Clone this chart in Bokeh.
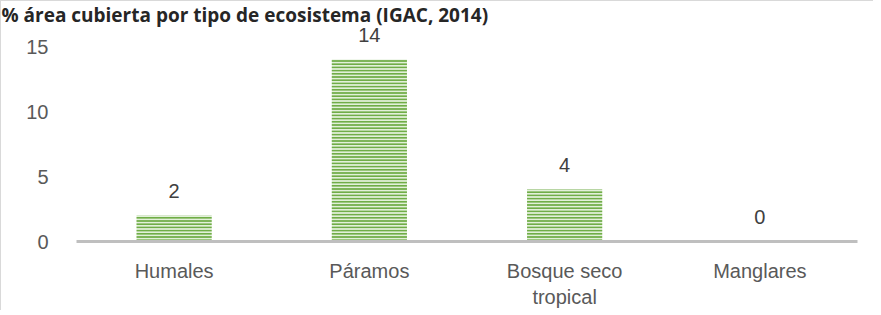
from bokeh.plotting import figure
from bokeh.models import ColumnDataSource, LabelSet, Range1d
from bokeh.core.properties import value
from bokeh.embed import file_html
from bokeh.resources import INLINE

categories = ["Humales", "Páramos", "Bosque seco\ntropical", "Manglares"]
values = [2, 14, 4, 0]
value_labels = ["2", "14", "4", "0"]
title_text = "% área cubierta por tipo de ecosistema (IGAC, 2014)"

FRAME_H = 217
UNIT_PX = 13

src = ColumnDataSource(dict(x=categories, top=values, lab=value_labels))

p = figure(x_range=categories, y_range=Range1d(0, FRAME_H / UNIT_PX),
           frame_width=781, frame_height=FRAME_H,
           min_border_left=75, min_border_right=16, min_border_top=23, min_border_bottom=68,
           output_backend="svg", toolbar_location=None, tools="",
           title=title_text)
p.styles = {"border-left": "1px solid #d9d9d9", "border-top": "1px solid #d9d9d9"}

p.title.text_font = "Open Sans"
p.title.text_font_size = "19px"
p.title.text_font_style = "bold"
p.title.text_color = "#262626"
p.title.align = "left"
p.title.offset = -75
p.title.standoff = -7

p.vbar(x="x", top="top", width=0.385, source=src,
       fill_color="#e2f0d9", line_color=None,
       hatch_pattern="horizontal_line", hatch_color="#70ad47",
       hatch_scale=3.2, hatch_weight=2.0)

labels = LabelSet(x="x", y="top", text="lab", source=src,
                  text_align="center", text_baseline="alphabetic", y_offset=18,
                  text_font=value("Liberation Sans"), text_font_size="20px",
                  text_color="#404040")
p.add_layout(labels)

p.xgrid.grid_line_color = None
p.ygrid.grid_line_color = None
p.outline_line_color = None

p.xaxis.axis_line_color = "#bfbfbf"
p.xaxis.axis_line_width = 3
p.xaxis.major_tick_line_color = None
p.xaxis.minor_tick_line_color = None
p.xaxis.major_label_standoff = 12
p.xaxis.major_label_text_font = "Liberation Sans"
p.xaxis.major_label_text_font_size = "20px"
p.xaxis.major_label_text_color = "#595959"

p.yaxis.ticker = [0, 5, 10, 15]
p.yaxis.axis_line_color = None
p.yaxis.major_tick_line_color = None
p.yaxis.minor_tick_line_color = None
p.yaxis.major_label_standoff = 22
p.yaxis.major_label_text_font = "Liberation Sans"
p.yaxis.major_label_text_font_size = "20px"
p.yaxis.major_label_text_color = "#595959"

p.background_fill_color = "white"
p.border_fill_color = "white"

open("out.html", "w").write(file_html(p, INLINE))
